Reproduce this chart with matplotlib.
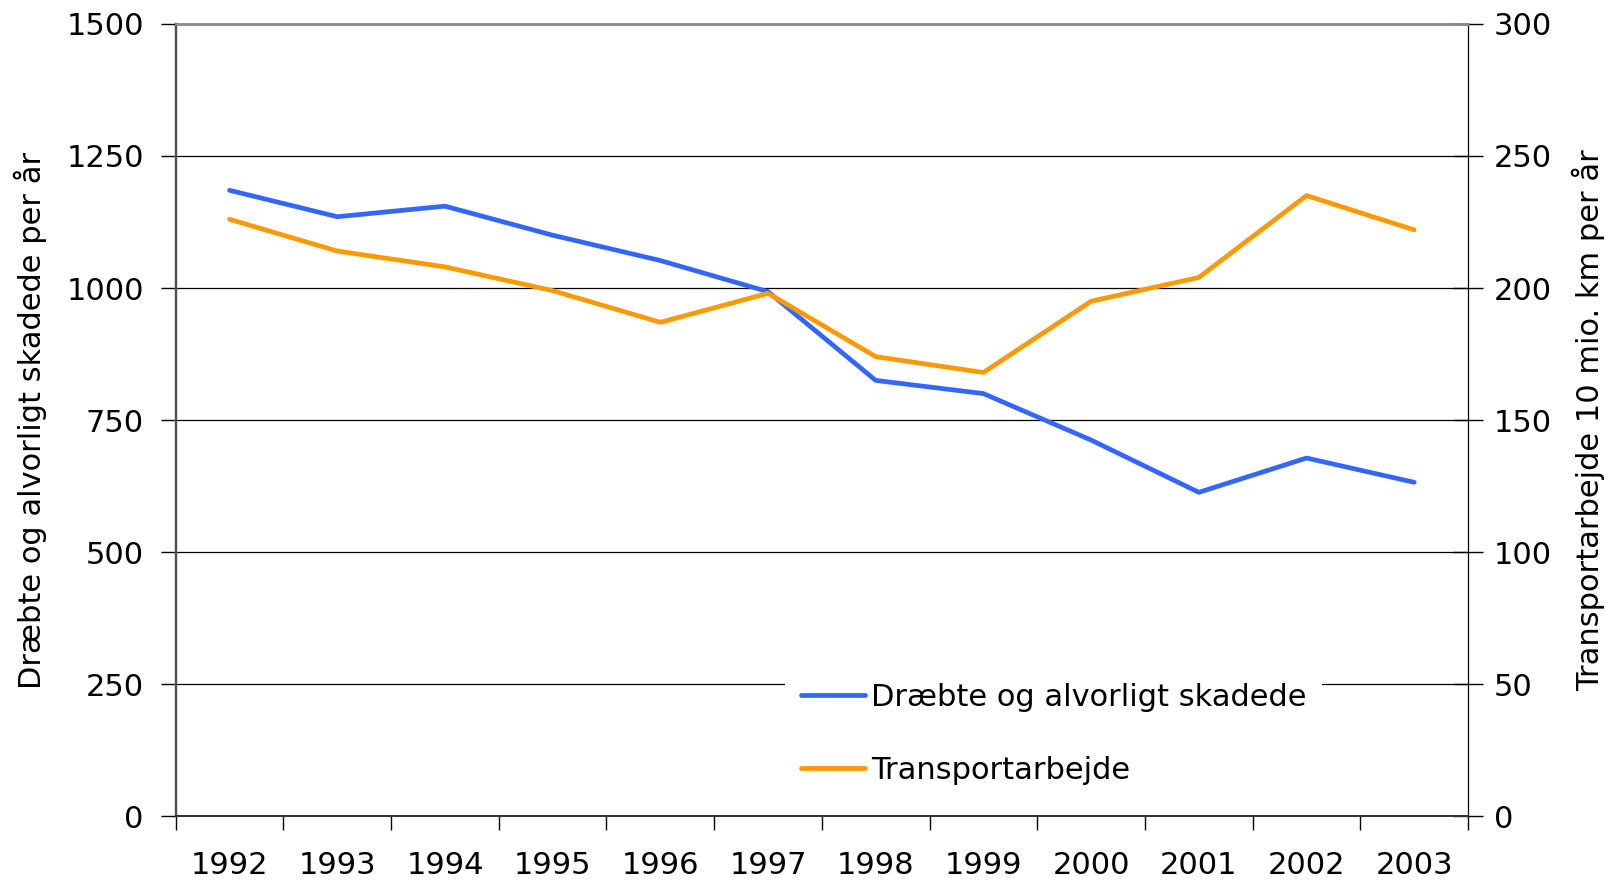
import matplotlib
matplotlib.use("Agg")
import matplotlib.pyplot as plt
import numpy as np

# data
years = ["1992", "1993", "1994", "1995", "1996", "1997",
         "1998", "1999", "2000", "2001", "2002", "2003"]
killed_injured = [1185, 1135, 1155, 1100, 1052, 993, 825, 800, 712, 613, 678, 632]
transport_work = [226, 214, 208, 199, 187, 198, 174, 168, 195, 204, 235, 222]

left_ticks = [0, 250, 500, 750, 1000, 1250, 1500]
right_ticks = [0, 50, 100, 150, 200, 250, 300]

blue = "#3366FF"
orange = "#FF9900"
fs = 22

fig = plt.figure(figsize=(16.12, 8.82), dpi=100)
ax = fig.add_axes([0.109, 0.0748, 0.8017, 0.898])
ax2 = ax.twinx()

x = np.arange(len(years))

ax.set_xlim(-0.5, len(years) - 0.5)
ax.set_ylim(0, 1500)
ax2.set_ylim(0, 300)

for y in left_ticks[1:-1]:
    ax.axhline(y, color="black", lw=0.9, zorder=1)

l1, = ax.plot(x, killed_injured, color=blue, lw=3.4, zorder=3,
              solid_capstyle="round", label="Dræbte og alvorligt skadede")
l2, = ax2.plot(x, transport_work, color=orange, lw=3.4, zorder=3,
               solid_capstyle="round", label="Transportarbejde")

# x axis: ticks at category boundaries, labels at centres
ax.set_xticks(np.arange(len(years) + 1) - 0.5)
ax.set_xticklabels([])
ax.set_xticks(x, minor=True)
ax.set_xticklabels(years, minor=True, fontsize=fs)
ax.tick_params(axis="x", which="major", direction="out", length=10, width=1)
ax.tick_params(axis="x", which="minor", length=0, pad=25)

ax.set_yticks(left_ticks)
ax.tick_params(axis="y", direction="out", length=11, width=1, labelsize=fs, pad=12)
ax2.set_yticks(right_ticks)
ax2.tick_params(axis="y", direction="inout", length=21, width=1, labelsize=fs, pad=8)

ax.set_ylabel("Dræbte og alvorligt skadede per år", fontsize=fs, labelpad=14)
ax2.set_ylabel("Transportarbejde 10 mio. km per år", fontsize=fs, labelpad=14)

for a in (ax, ax2):
    a.spines["top"].set_color("#8c8c8c")
    a.spines["top"].set_linewidth(1.8)
    a.spines["left"].set_color("#505050")
    a.spines["left"].set_linewidth(1.6)
    a.spines["right"].set_color("black")
    a.spines["bottom"].set_color("#333333")
    a.spines["bottom"].set_linewidth(1.4)

leg = ax2.legend(handles=[l1, l2], loc="upper left",
                 bbox_to_anchor=(0.46, 0.207), fontsize=fs,
                 frameon=True, fancybox=False, framealpha=1,
                 handlelength=2.1, handletextpad=0.2, labelspacing=1.45,
                 borderpad=0.5)
leg.get_frame().set_facecolor("white")
leg.get_frame().set_edgecolor("none")
leg.set_zorder(5)

fig.savefig("out.png", dpi=100)
